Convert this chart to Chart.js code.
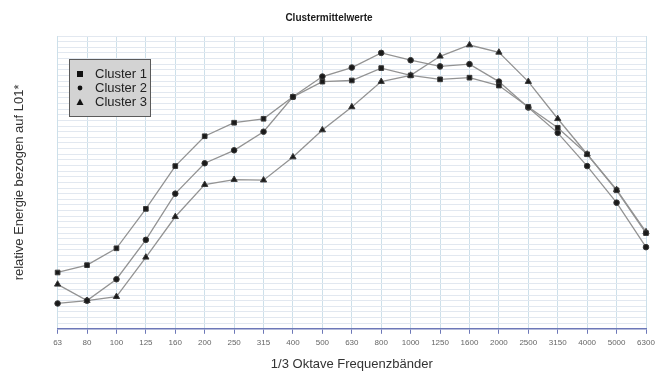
<!DOCTYPE html>
<html>
<head>
<meta charset="utf-8">
<title>Clustermittelwerte</title>
<script src="https://cdn.jsdelivr.net/npm/chart.js@4.4.1/dist/chart.umd.min.js"></script>
<style>
  html, body { margin: 0; padding: 0; background: #fff; }
  canvas { display: block; }
</style>
</head>
<body>
<canvas id="clusterChart" width="662" height="374"></canvas>
<script>
const bands = ["63", "80", "100", "125", "160", "200", "250", "315", "400", "500", "630",
  "800", "1000", "1250", "1600", "2000", "2500", "3150", "4000", "5000", "6300"];

const cluster1 = [10.0, 11.3, 14.3, 21.3, 28.9, 34.2, 36.6, 37.3, 41.2, 43.9, 44.1,
  46.3, 45.0, 44.3, 44.6, 43.2, 39.4, 35.7, 31.0, 24.6, 17.0];
const cluster2 = [4.5, 5.0, 8.8, 15.8, 24.0, 29.4, 31.7, 35.0, 41.2, 44.8, 46.4,
  49.0, 47.7, 46.6, 47.0, 43.9, 39.3, 34.8, 28.9, 22.4, 14.5];
const cluster3 = [7.9, 5.0, 5.7, 12.7, 19.9, 25.6, 26.5, 26.4, 30.5, 35.3, 39.4,
  43.9, 45.0, 48.4, 50.4, 49.1, 43.9, 37.3, 31.0, 24.7, 17.2];

const seriesNames = ["Cluster 1", "Cluster 2", "Cluster 3"];

function series(label, data, style, radius) {
  return {
    label: label,
    data: data,
    borderColor: "#939393",
    borderWidth: 1.3,
    pointStyle: style,
    pointRadius: radius,
    pointBackgroundColor: "#1a1a1a",
    pointBorderColor: "#3a3a3a",
    pointBorderWidth: 1,
    tension: 0,
    fill: false
  };
}

// grey boxed legend sitting inside the plot, top left
const boxLegend = {
  id: "boxLegend",
  afterDatasetsDraw(chart) {
    const ctx = chart.ctx;
    const x = 69, y = 59, w = 81, h = 57;
    ctx.save();
    ctx.fillStyle = "#d3d3d3";
    ctx.fillRect(x, y, w, h);
    ctx.strokeStyle = "#5a5a5a";
    ctx.lineWidth = 1;
    ctx.strokeRect(x + 0.5, y + 0.5, w, h);
    ctx.font = "13px 'Liberation Sans', Arial, sans-serif";
    ctx.textBaseline = "middle";
    chart.data.datasets.forEach((ds, i) => {
      const cy = 74 + i * 14;
      ctx.fillStyle = "#111";
      if (ds.pointStyle === "rect") {
        ctx.fillRect(77, cy - 3, 6, 6);
      } else if (ds.pointStyle === "circle") {
        ctx.beginPath();
        ctx.arc(80, cy, 2.4, 0, Math.PI * 2);
        ctx.fill();
      } else {
        ctx.beginPath();
        ctx.moveTo(80, cy - 3.5);
        ctx.lineTo(83.5, cy + 3);
        ctx.lineTo(76.5, cy + 3);
        ctx.closePath();
        ctx.fill();
      }
      ctx.fillStyle = "#222";
      ctx.fillText(ds.label, 95, cy + 0.5);
    });
    ctx.restore();
  }
};

new Chart(document.getElementById("clusterChart"), {
  type: "line",
  data: {
    labels: bands,
    datasets: [
      series(seriesNames[0], cluster1, "rect", 3.3),
      series(seriesNames[1], cluster2, "circle", 2.8),
      series(seriesNames[2], cluster3, "triangle", 3.6)
    ]
  },
  plugins: [boxLegend],
  options: {
    responsive: false,
    animation: false,
    devicePixelRatio: 1,
    layout: { padding: { top: 8, right: 16, left: 12, bottom: 2 } },
    plugins: {
      legend: { display: false },
      tooltip: { enabled: false },
      title: {
        display: true,
        text: "Clustermittelwerte",
        color: "#1a1a1a",
        font: { family: "'Liberation Sans', Arial, sans-serif", size: 10, weight: "bold" },
        padding: { top: 4, bottom: 12 }
      }
    },
    scales: {
      x: {
        offset: false,
        grid: {
          color: "#cde0ea",
          lineWidth: 1,
          tickColor: "#6d78b8",
          tickLength: 5
        },
        border: { color: "#6d78b8", width: 1.5 },
        ticks: {
          color: "#666",
          font: { family: "'Liberation Sans Narrow', 'Liberation Sans', Arial, sans-serif", size: 8 },
          maxRotation: 0,
          autoSkip: false,
          padding: 4
        },
        title: {
          display: true,
          text: "1/3 Oktave Frequenzbänder",
          color: "#333",
          font: { family: "'Liberation Sans', Arial, sans-serif", size: 13 },
          padding: { top: 5, bottom: 0 }
        }
      },
      y: {
        min: 0,
        max: 52,
        grid: {
          color: "#e2e8f0",
          lineWidth: 1,
          drawTicks: false
        },
        border: { display: false },
        ticks: { display: false, stepSize: 1 },
        title: {
          display: true,
          text: "relative Energie bezogen auf L01*",
          color: "#333",
          font: { family: "'Liberation Sans', Arial, sans-serif", size: 13 },
          padding: { top: 0, bottom: 30 }
        }
      }
    }
  }
});
</script>
</body>
</html>
